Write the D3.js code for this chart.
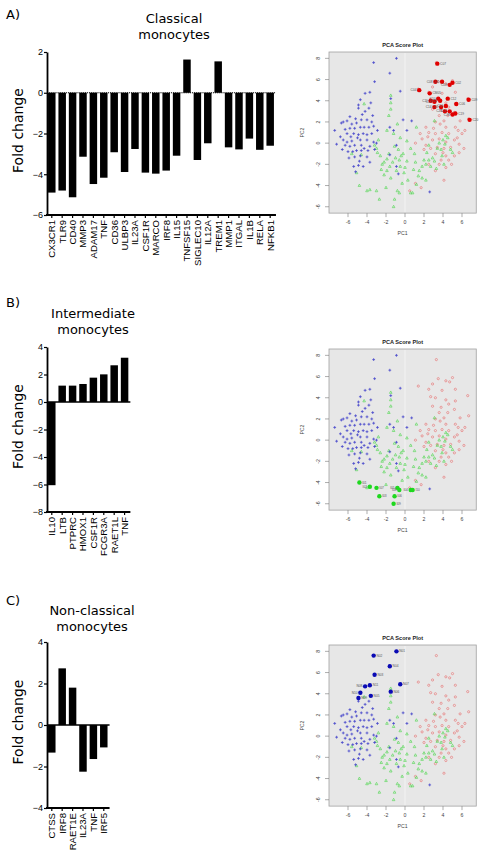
<!DOCTYPE html>
<html>
<head>
<meta charset="utf-8">
<script src="https://cdn.jsdelivr.net/npm/d3@7"></script>
<style>
body { margin: 0; background: #fff; }
svg { display: block; }
</style>
</head>
<body>
<svg id="fig" width="483" height="863"></svg>
<script>
// bar chart data
const genesA = ["CX3CR1","TLR9","CD40","MMP3","ADAM17","TNF","CD36","ULBP3","IL23A","CSF1R","MARCO",
    "IRF8","IL15","TNFSF15","SIGLEC10","IL12A","TREM1","MMP1","ITGAL","IL1B","RELA","NFKB1"];
const foldA = [-4.9,-4.8,-5.13,-3.14,-4.48,-4.17,-2.92,-3.89,-2.76,-3.92,-3.97,
    -3.82,-3.09,1.63,-3.3,-2.48,1.54,-2.68,-2.78,-2.25,-2.8,-2.6];
const ticksA = [-6,-4,-2,0,2];

const genesB = ["IL10","LTB","PTPRC","HMOX1","CSF1R","FCGR3A","RAET1L","TNF"];
const foldB = [-6.05,1.19,1.19,1.31,1.77,2.01,2.67,3.22];
const ticksB = [-8,-6,-4,-2,0,2,4];

const genesC = ["CTSS","IRF8","RAET1E","IL23A","TNF","IRF5"];
const foldC = [-1.33,2.73,1.8,-2.25,-1.64,-1.08];
const ticksC = [-4,-2,0,2,4];

// PCA score plot data (PC1, PC2)
const pc1Ticks = [-6,-4,-2,0,2,4,6];
const pc2Ticks = [-6,-4,-2,0,2,4,6,8];

const bluePts = [[-3.3,7.6],[-0.9,8.0],[-1.6,6.6],[-3.2,5.8],[-0.5,4.9],[-4.2,4.7],[-3.7,4.8],[-4.7,4.1],
    [-3.6,3.8],[-1.5,4.2],[-4.9,3.6],[-4.2,3.0],[-4.9,3.3],[-3.4,2.6],[-4.0,2.2],[-4.6,2.2],[-5.8,2.5],
    [-6.5,2.0],[-6.1,2.1],[-6.7,1.9],[-5.6,1.8],[-5.1,1.9],[-5.8,1.4],[-5.3,1.4],[-4.7,1.5],[-4.3,1.5],
    [-3.8,1.5],[-3.3,1.6],[-2.9,1.2],[-7.4,1.2],[-6.1,0.9],[-5.4,0.9],[-4.9,0.8],[-4.4,0.9],[-4.0,0.8],
    [-3.5,0.9],[-6.5,0.3],[-6.1,0.1],[-5.6,0.2],[-4.7,0.3],[-4.0,0.3],[-3.3,0.1],[-7.2,-0.1],[-6.3,-0.2],
    [-5.8,-0.3],[-5.3,-0.2],[-4.6,-0.2],[-3.7,-0.3],[-3.0,0.0],[-6.0,-0.8],[-5.1,-0.7],[-4.6,-0.7],
    [-3.9,-0.7],[-5.9,-1.4],[-5.3,-1.3],[-4.7,-1.2],[-4.0,-1.3],[-5.4,-2.2],[-4.9,-2.1],[-4.4,-2.2],
    [-5.2,-2.7],[0.2,1.2],[0.7,2.1],[-0.2,2.2],[-0.9,-2.2],[-0.7,-2.9],[2.6,-4.6],[-1.6,1.5],[-1.2,1.2],
    [-1.6,-1.1],[-0.9,-0.2],[-5.0,0.5],[-5.5,-0.8],[-4.3,-0.5],[-6.3,1.3],[-3.5,2.0],[-4.5,2.7],
    [-5.2,2.3],[-6.8,0.6],[-3.2,-0.6],[-4.8,-1.7],[-3.7,-1.8],[-5.7,0.6],[-6.6,-0.6],[-3.8,3.3]];

const greenPts = [[-1.5,4.5],[-1.5,3.8],[-1.5,3.2],[-1.7,2.6],[-1.9,1.2],[-1.2,0.9],[-0.8,1.8],[-0.5,0.5],
    [-2.8,0.3],[-3.2,-0.2],[-3.0,-0.5],[-4.3,3.7],[-5.6,-1.0],[-5.1,-2.8],[-4.6,-1.1],[-4.8,-4.0],
    [-4.0,-4.5],[-3.7,-4.4],[-3.0,-4.5],[-2.7,-5.3],[-2.5,-2.5],[-2.2,-1.8],[-1.9,-1.5],[-1.6,-2.2],
    [-1.3,-1.8],[-1.0,-1.4],[-0.9,-2.6],[-0.6,-1.6],[-0.5,-2.2],[-0.2,-1.0],[-0.1,-2.8],[0.2,-1.7],
    [0.3,-3.5],[-0.3,-3.8],[-0.8,-4.5],[-0.6,-4.7],[-1.1,-5.3],[-1.2,-6.0],[-2.0,-4.2],[-1.5,-3.3],
    [0.6,-4.7],[0.8,-4.7],[1.2,-3.9],[1.4,-3.1],[1.5,-2.6],[1.8,-2.2],[2.0,-1.6],[2.2,-2.0],[2.5,-1.6],
    [2.7,-2.2],[2.9,-1.4],[3.1,-1.7],[2.3,-0.9],[2.5,-0.2],[3.4,-0.5],[3.6,0.0],[3.8,-0.6],[4.0,0.3],
    [4.2,-0.1],[4.5,0.5],[4.3,0.7],[4.8,-0.6],[5.0,-0.9],[3.3,-2.4],[3.9,-1.2],[2.2,-3.5],[1.8,-3.3],
    [0.2,0.2],[0.6,-0.5],[1.0,-1.0],[1.2,1.5],[-1.1,-0.3],[-2.2,-3.0],[-1.7,-1.0],[0.9,-2.5],[4.1,-2.0],
    [-0.4,-1.2],[-2.6,-1.2],[-0.7,-0.6],[-2.9,-0.9],[-2.4,-2.0],[-1.9,-2.6],[0.0,-2.3],[1.1,-1.8],[3.1,2.1]];

const redPts = [[3.3,7.6],[5.0,5.9],[4.3,5.6],[2.9,5.3],[1.4,5.1],[2.5,4.8],[3.9,4.7],[5.3,4.8],[6.6,4.2],
    [2.7,4.1],[3.2,4.0],[4.3,3.8],[5.3,3.7],[2.9,3.2],[3.8,3.1],[4.6,3.4],[5.2,2.9],[6.7,2.3],[4.1,2.1],
    [3.2,2.0],[5.3,1.5],[4.3,1.5],[2.2,1.5],[2.5,1.0],[3.2,0.9],[3.9,1.0],[4.6,0.9],[6.0,0.9],[1.8,0.4],
    [2.4,0.6],[2.9,0.3],[3.6,0.4],[4.3,0.1],[5.2,0.3],[5.7,-0.1],[1.1,0.0],[2.2,-0.2],[3.4,-0.4],[4.1,-0.5],
    [4.8,-0.4],[6.2,-0.5],[3.2,-1.0],[4.3,-1.2],[5.2,-1.2],[5.7,-0.9],[3.8,-1.6],[4.6,-1.6],[2.5,-2.0],
    [4.3,-2.3],[3.2,-2.6],[1.1,-3.8],[1.7,-4.2],[4.1,-3.5],[0.5,-4.5],[3.5,5.8],[4.7,5.5],[3.0,1.4],
    [3.7,1.8],[5.6,1.2],[2.0,-0.6],[4.9,-2.0],[3.6,-2.0],[5.5,0.5],[2.7,-0.5],[6.3,1.2],[1.6,0.9],
    [4.0,-0.9],[4.5,2.6],[3.6,2.6],[5.8,2.1]];

// highlighted samples in each score plot
const hiA = [[3.4,7.5,"C07"],[3.2,5.8,"C08"],[3.9,5.8,"C05"],[5.0,5.7,"C02"],[4.7,5.5,"C03"],[1.5,5.0,"C04"],
    [2.6,4.7,"CM05"],[3.5,4.2,"C10"],[4.5,4.2,"C12"],[2.7,4.0,"C11"],[3.1,3.9,"C13"],[3.7,4.0,"C01"],
    [5.4,3.7,"C06"],[6.7,4.1,"C09"],[3.1,3.4,"C14"],[3.8,3.4,"C15"],[4.3,3.5,"C16"],[4.7,3.0,"C17"],
    [5.0,2.7,"C18"],[5.3,2.8,"C19"],[6.8,2.2,"C20"],[4.2,3.0,"C21"]];
const hiB = [[-4.8,-4.0,"I01"],[-3.7,-4.4,"I02"],[-3.0,-4.5,"I07"],[-2.7,-5.3,"I03"],[-0.8,-4.5,"I05"],
    [-0.6,-4.7,"I08"],[-1.1,-5.3,"I06"],[-1.2,-6.0,"I09"],[0.6,-4.7,"I04"],[0.8,-4.7,"I10"]];
const hiC = [[-0.9,8.0,"N01"],[-3.3,7.6,"N02"],[-1.6,6.6,"N04"],[-3.2,5.8,"N03"],[-0.5,4.9,"N07"],
    [-3.7,4.8,"N11"],[-4.2,4.7,"N08"],[-1.5,4.2,"N06"],[-4.7,4.1,"N10"],[-3.6,3.8,"N05"],[-4.9,3.6,"N09"]];

const svg = d3.select("#fig");
const sansBar = "'Liberation Sans', Arial, sans-serif";
const verd = "'DejaVu Sans', Verdana, sans-serif";

function drawBars(genes, vals, ticks, yTop, yBot, titleLines, titleX, titleY, letter, letterY, dashedZero) {
    const step = 10.4, x0 = 47;
    let x = d3.scaleBand().domain(genes)
        .range([x0, x0 + step * (genes.length - 0.28 + 0.2)])
        .paddingInner(0.28).paddingOuter(0.1);
    let y = d3.scaleLinear().domain(d3.extent(ticks)).range([yBot, yTop]);
    let g = svg.append("g");

    g.append("text").attr("x", 6).attr("y", letterY).text(letter)
        .attr("font-family", verd).attr("font-size", 13);

    titleLines.forEach((t, i) => {
        g.append("text").attr("x", titleX).attr("y", titleY + i * 16)
            .attr("text-anchor", "middle").attr("font-family", verd).attr("font-size", 13).text(t);
    });

    g.append("text")
        .attr("transform", "translate(23," + ((yTop + yBot) / 2 - 3) + ") rotate(-90)")
        .attr("text-anchor", "middle").attr("font-family", verd).attr("font-size", 14)
        .text("Fold change");

    g.selectAll(".bar").data(vals).enter().append("rect")
        .attr("x", (d, i) => x(genes[i]))
        .attr("y", d => y(Math.max(0, d)))
        .attr("width", x.bandwidth())
        .attr("height", d => Math.abs(y(d) - y(0)))
        .attr("fill", "#000");

    let zero = g.append("line")
        .attr("x1", x0).attr("x2", x.range()[1] + 1)
        .attr("y1", y(0)).attr("y2", y(0))
        .attr("stroke", "#000");
    if (dashedZero) zero.attr("stroke-width", 1).attr("stroke-dasharray", "1.2,0.9");
    else zero.attr("stroke-width", 1.6);

    let yAx = g.append("g").attr("transform", "translate(" + x0 + ",0)")
        .call(d3.axisLeft(y).tickValues(ticks).tickSize(3).tickSizeOuter(0));
    let xAx = g.append("g").attr("transform", "translate(0," + yBot + ")")
        .call(d3.axisBottom(x).tickSize(3).tickSizeOuter(0));

    [yAx, xAx].forEach(a => {
        a.attr("font-family", sansBar).attr("font-size", 9);
        a.select(".domain").attr("stroke-width", 1.8);
        a.selectAll(".tick line").attr("stroke-width", 1.2);
    });
    xAx.select(".domain").attr("d", "M" + (x0 - 1) + ",0H" + (x.range()[1] + 1));
    yAx.selectAll("text").attr("x", -4).attr("fill", "#000");
    xAx.selectAll("text")
        .attr("font-size", 9.6)
        .attr("transform", "rotate(-90)")
        .attr("text-anchor", "end")
        .attr("x", -5).attr("y", 0).attr("dy", "0.36em")
        .attr("fill", "#000");
}

drawBars(genesA, foldA, ticksA, 52, 215, ["Classical", "monocytes"], 174, 22.5, "A)", 19, true);
drawBars(genesB, foldB, ticksB, 347, 512, ["Intermediate", "monocytes"], 93, 318, "B)", 307, false);
drawBars(genesC, foldC, ticksC, 642, 808, ["Non-classical", "monocytes"], 92, 615, "C)", 605, false);

function drawPCA(top, hi, hiColor) {
    const x = d3.scaleLinear().domain([-8, 7.5]).range([329, 476.25]);
    const y = d3.scaleLinear().domain([-6.6, 8.6]).range([top + 161.1, top]);
    const bot = top + 161.1;
    let g = svg.append("g").attr("font-family", sansBar);

    g.append("rect").attr("x", 329).attr("y", top).attr("width", 147.25).attr("height", 161.1)
        .attr("fill", "#e7e7e7").attr("stroke", "#a0a0a0").attr("stroke-width", 0.8);
    g.append("line").attr("x1", x(0)).attr("x2", x(0)).attr("y1", top + 1).attr("y2", bot - 1)
        .attr("stroke", "#fff").attr("stroke-opacity", 0.55).attr("stroke-width", 1);

    g.append("text").attr("x", 402.6).attr("y", top - 5).attr("text-anchor", "middle")
        .attr("font-size", 5.6).attr("font-weight", "bold").attr("fill", "#222").text("PCA Score Plot");

    // ticks
    g.selectAll(".xt").data(pc1Ticks).enter().append("line")
        .attr("x1", d => x(d)).attr("x2", d => x(d)).attr("y1", bot).attr("y2", bot + 4)
        .attr("stroke", "#777").attr("stroke-width", 0.6);
    g.selectAll(".xl").data(pc1Ticks).enter().append("text")
        .attr("x", d => x(d)).attr("y", bot + 10.5).attr("text-anchor", "middle")
        .attr("font-size", 5.2).attr("fill", "#444").text(d => d);
    g.selectAll(".yt").data(pc2Ticks).enter().append("line")
        .attr("x1", 325).attr("x2", 329).attr("y1", d => y(d)).attr("y2", d => y(d))
        .attr("stroke", "#777").attr("stroke-width", 0.6);
    g.selectAll(".yl").data(pc2Ticks).enter().append("text")
        .attr("transform", d => "translate(320," + y(d) + ") rotate(-90)")
        .attr("text-anchor", "middle").attr("font-size", 5.2).attr("fill", "#444").text(d => d);
    g.append("text").attr("x", 402.6).attr("y", bot + 22).attr("text-anchor", "middle")
        .attr("font-size", 5.2).attr("fill", "#444").text("PC1");
    g.append("text").attr("transform", "translate(304," + y(1) + ") rotate(-90)")
        .attr("text-anchor", "middle").attr("font-size", 5.2).attr("fill", "#444").text("PC2");

    // background samples
    g.selectAll(".rp").data(redPts).enter().append("circle")
        .attr("cx", d => x(d[0])).attr("cy", d => y(d[1])).attr("r", 1.1)
        .attr("fill", "none").attr("stroke", "#e77b7b").attr("stroke-width", 0.7);
    g.selectAll(".gp").data(greenPts).enter().append("path")
        .attr("transform", d => "translate(" + x(d[0]) + "," + y(d[1]) + ")")
        .attr("d", "M0,-1.5L1.3,0.9H-1.3Z")
        .attr("fill", "none").attr("stroke", "#5fd85f").attr("stroke-width", 0.7);
    g.selectAll(".bp").data(bluePts).enter().append("path")
        .attr("transform", d => "translate(" + x(d[0]) + "," + y(d[1]) + ")")
        .attr("d", "M-1.4,0H1.4M0,-1.4V1.4")
        .attr("stroke", "#4848cc").attr("stroke-width", 0.8);

    // highlighted samples
    g.selectAll(".hp").data(hi).enter().append("circle")
        .attr("cx", d => x(d[0])).attr("cy", d => y(d[1])).attr("r", 2.2)
        .attr("fill", hiColor);

    // put the label on the left when another highlighted point sits just to the right
    let crowded = d => hi.some(o => o !== d &&
        x(o[0]) - x(d[0]) > 0 && x(o[0]) - x(d[0]) < 12 && Math.abs(y(o[1]) - y(d[1])) < 4);
    g.selectAll(".hl").data(hi).enter().append("text")
        .attr("x", d => crowded(d) ? x(d[0]) - 2.8 : x(d[0]) + 2.8)
        .attr("text-anchor", d => crowded(d) ? "end" : "start")
        .attr("y", d => y(d[1]) + 1.1)
        .attr("font-size", 3.2).attr("fill", "#555").text(d => d[2]);
}

drawPCA(52, hiA, "#e00000");
drawPCA(349, hiB, "#1fd81f");
drawPCA(645, hiC, "#0a0ab4");
</script>
</body>
</html>
